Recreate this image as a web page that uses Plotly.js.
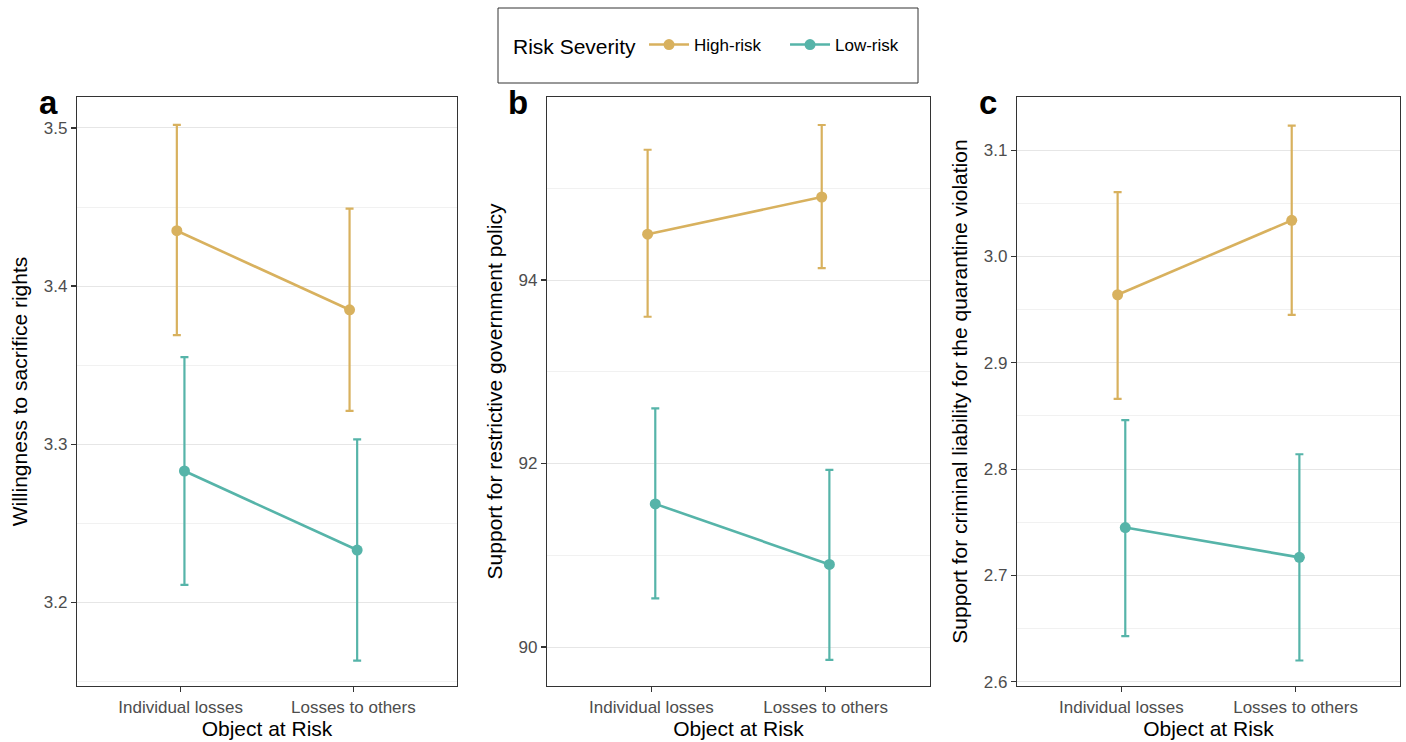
<!DOCTYPE html>
<html>
<head>
<meta charset="utf-8">
<script src="https://cdn.plot.ly/plotly-3.0.1.min.js"></script>
<style>html,body{margin:0;padding:0;background:#fff;}#chart{width:1406px;height:742px;}</style>
</head>
<body>
<div id="chart"></div>
<script>
// ---- data ----
const categories = ["Individual losses", "Losses to others"];
const seriesNames = ["High-risk", "Low-risk"];

// Panel a: Willingness to sacrifice rights
const aHigh = [3.435, 3.385];
const aHighLo = [3.369, 3.321];
const aHighHi = [3.502, 3.449];
const aLow = [3.283, 3.233];
const aLowLo = [3.211, 3.163];
const aLowHi = [3.355, 3.303];

// Panel b: Support for restrictive government policy
const bHigh = [94.50, 94.905];
const bHighLo = [93.60, 94.13];
const bHighHi = [95.42, 95.69];
const bLow = [91.56, 90.90];
const bLowLo = [90.53, 89.86];
const bLowHi = [92.60, 91.93];

// Panel c: Support for criminal liability for the quarantine violation
const cHigh = [2.964, 3.034];
const cHighLo = [2.866, 2.945];
const cHighHi = [3.0605, 3.123];
const cLow = [2.745, 2.717];
const cLowLo = [2.643, 2.620];
const cLowHi = [2.846, 2.814];

const yTitles = ["Willingness to sacrifice rights", "Support for restrictive government policy", "Support for criminal liability for the quarantine violation"];
const panelLabels = ["a", "b", "c"];
const xTitle = "Object at Risk";
const legendTitle = "Risk Severity";

// ---- styles ----
const colors = ["#D8B15E", "#56B4A9"];
const dodge = [-0.022, 0.022];
const W = 1406, H = 742;
const px = v => v / W;
const py = v => 1 - v / H;

const panels = [
  {high: aHigh, highLo: aHighLo, highHi: aHighHi, low: aLow, lowLo: aLowLo, lowHi: aLowHi,
   xd: [77, 457], yr: [3.147, 3.5196], dtick: 0.1, minor: 0.05, fmt: ".1f"},
  {high: bHigh, highLo: bHighLo, highHi: bHighHi, low: bLow, lowLo: bLowLo, lowHi: bLowHi,
   xd: [547, 930], yr: [89.575, 95.995], dtick: 2, minor: 1, fmt: "d"},
  {high: cHigh, highLo: cHighLo, highHi: cHighHi, low: cLow, lowLo: cLowLo, lowHi: cLowHi,
   xd: [1017, 1400], yr: [2.596, 3.150], dtick: 0.1, minor: 0.05, fmt: ".1f"}
];

const traces = [];
const layout = {
  width: W, height: H,
  margin: {l: 0, r: 0, t: 0, b: 0},
  paper_bgcolor: "#fff", plot_bgcolor: "#fff",
  font: {family: "Liberation Sans, Arial, sans-serif", color: "#000"},
  showlegend: true,
  legend: {
    orientation: "h", x: px(511), y: py(46), xanchor: "left", yanchor: "middle",
    title: {text: legendTitle, side: "left", font: {size: 21, color: "#000"}},
    font: {size: 17, color: "#000"}, bgcolor: "rgba(0,0,0,0)", borderwidth: 0,
    itemwidth: 40, entrywidth: 86, entrywidthmode: "pixels", traceorder: "normal"
  },
  shapes: [{type: "rect", xref: "paper", yref: "paper", x0: px(498), x1: px(918), y0: py(83), y1: py(8),
    line: {color: "#333", width: 1}, fillcolor: "rgba(0,0,0,0)"}],
  annotations: []
};

panels.forEach((p, i) => {
  const sfx = i === 0 ? "" : String(i + 1);
  const xa = "x" + sfx, ya = "y" + sfx;
  const groups = [[p.high, p.highLo, p.highHi], [p.low, p.lowLo, p.lowHi]];
  groups.forEach((g, k) => {
    const [vals, lo, hi] = g;
    traces.push({
      type: "scatter", mode: "lines+markers",
      name: seriesNames[k], legendgroup: seriesNames[k], showlegend: i === 0,
      x: categories.map((c, j) => j + 1 + dodge[k]),
      y: vals,
      xaxis: xa, yaxis: ya,
      line: {color: colors[k], width: 2.6},
      marker: {color: colors[k], size: 11},
      error_y: {type: "data", symmetric: false,
        array: vals.map((v, j) => hi[j] - v),
        arrayminus: vals.map((v, j) => v - lo[j]),
        color: colors[k], thickness: 2.2, width: 4},
      hoverinfo: "x+y"
    });
  });
  layout["xaxis" + sfx] = {
    domain: [px(p.xd[0]), px(p.xd[1])], anchor: ya,
    range: [0.4, 2.6], tickmode: "array", tickvals: categories.map((c, j) => j + 1), ticktext: categories,
    showgrid: false, zeroline: false,
    showline: true, mirror: true, linecolor: "#333", linewidth: 1.2,
    ticks: "outside", ticklen: 5, tickwidth: 1.2, tickcolor: "#333",
    tickfont: {size: 17, color: "#4D4D4D"},
    title: {text: xTitle, font: {size: 21, color: "#000"}, standoff: 5},
    automargin: false
  };
  layout["yaxis" + sfx] = {
    domain: [py(686), py(97)], anchor: xa,
    range: p.yr, dtick: p.dtick, tick0: 0, tickformat: p.fmt,
    showgrid: true, gridcolor: "#E6E6E6", gridwidth: 1,
    minor: {dtick: p.minor, tick0: 0, showgrid: true, gridcolor: "#EDEDED", gridwidth: 0.8, ticks: ""},
    zeroline: false,
    showline: true, mirror: true, linecolor: "#333", linewidth: 1.2,
    ticks: "outside", ticklen: 5, tickwidth: 1.2, tickcolor: "#333",
    tickfont: {size: 17, color: "#4D4D4D"},
    title: {text: yTitles[i], font: {size: 21, color: "#000"}, standoff: 10},
    automargin: false
  };
  layout.annotations.push({
    xref: "paper", yref: "paper", x: px(p.xd[0] - 29), y: py(102), xanchor: "center", yanchor: "middle",
    text: "<b>" + panelLabels[i] + "</b>", showarrow: false, font: {size: 33, color: "#000"}
  });
});

Plotly.newPlot("chart", traces, layout, {displayModeBar: false, staticPlot: true});
</script>
</body>
</html>
